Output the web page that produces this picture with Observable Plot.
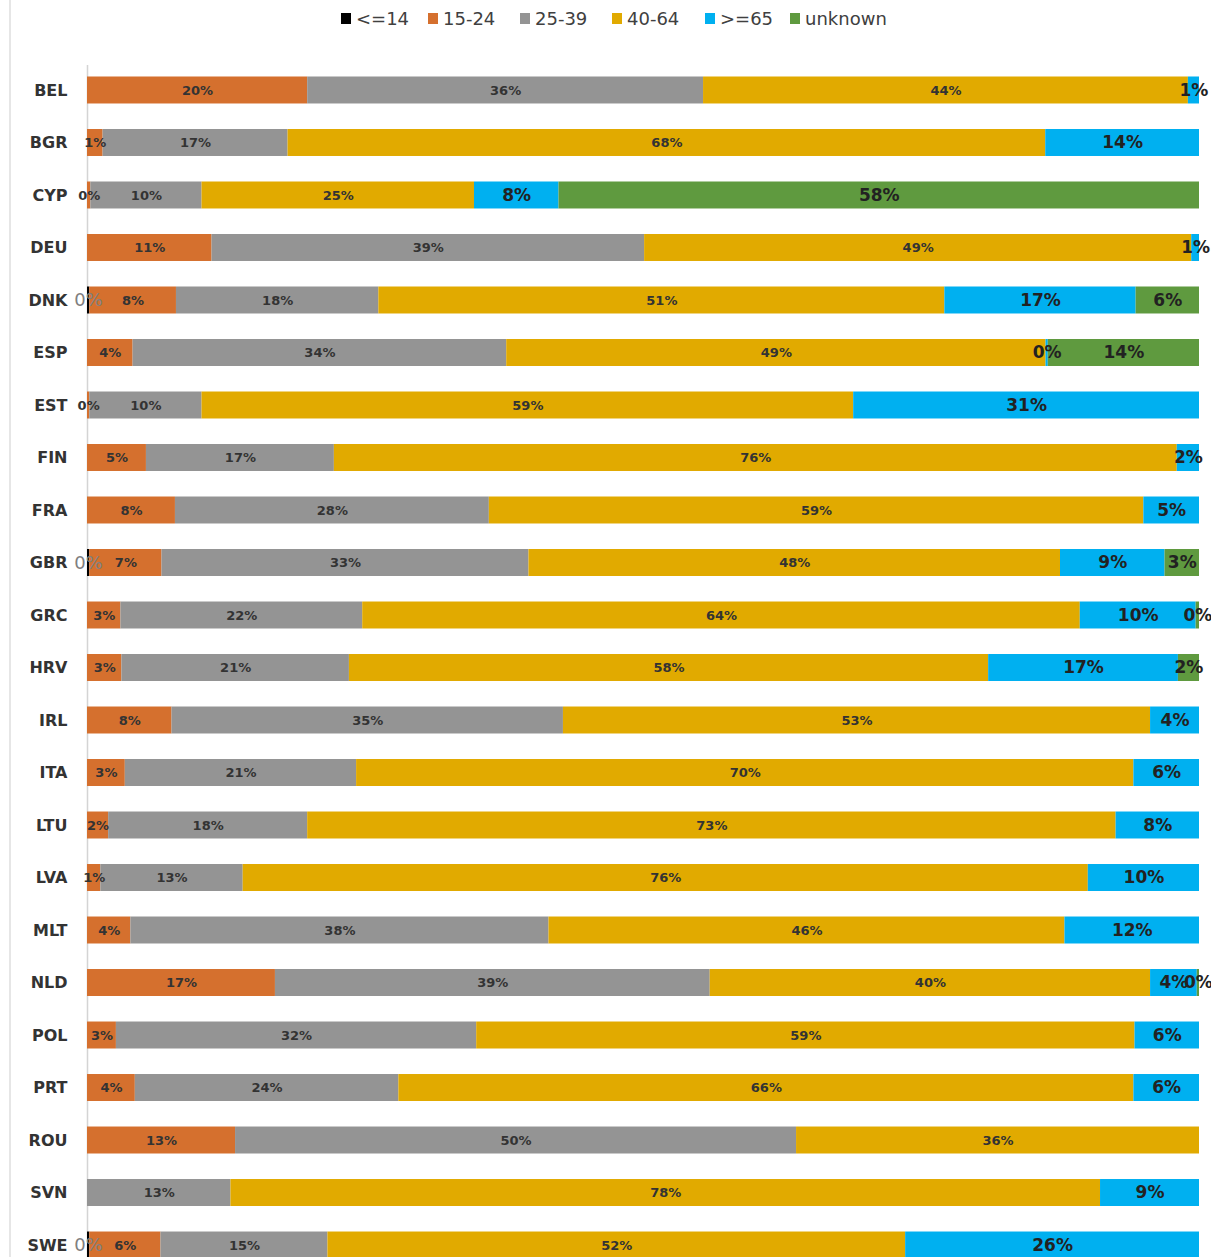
<!DOCTYPE html>
<html>
<head>
<meta charset="utf-8">
<script src="https://cdn.jsdelivr.net/npm/d3@7"></script>
<script src="https://cdn.jsdelivr.net/npm/@observablehq/plot@0.6"></script>
<style>
  html, body { margin:0; padding:0; background:#fff; overflow:hidden; }
  body { width:1211px; height:1257px; position:relative; font-family:"DejaVu Sans", sans-serif; }
  #frame { position:absolute; left:9px; top:0; width:2px; height:1257px; background:#e6e6e6; }
  #legend { height:36px; position:relative; font-size:18px; color:#404040; }
  #legend .item { position:absolute; top:8px; display:flex; align-items:center; white-space:nowrap; }
  #legend .sw { width:10px; height:11px; margin-right:5px; }
  #chart svg g[aria-label="y-axis tick label"] text { font-weight:bold; }
</style>
</head>
<body>
<div id="frame"></div>
<div id="legend"></div>
<div id="chart"></div>
<script>
const countries = ["BEL","BGR","CYP","DEU","DNK","ESP","EST","FIN","FRA","GBR","GRC","HRV","IRL","ITA","LTU","LVA","MLT","NLD","POL","PRT","ROU","SVN","SWE"];
const ages = ["<=14","15-24","25-39","40-64",">=65","unknown"];
const colors = ["#000000","#D5702E","#949494","#E1AA00","#00B0F0","#5F9A3F"];

const age0_14  = [null,null,null,null,0.2,null,null,null,null,0.2,null,null,null,null,null,null,null,null,null,null,null,null,0.2];
const age15_24 = [19.8,1.4,0.3,11.2,7.8,4.1,0.2,5.3,7.9,6.5,3.0,3.1,7.6,3.4,1.9,1.2,3.9,16.9,2.6,4.3,13.3,null,6.4];
const age25_39 = [35.6,16.6,10.0,38.9,18.2,33.6,10.1,16.9,28.2,33.0,21.7,20.5,35.2,20.8,17.9,12.8,37.6,39.1,32.4,23.7,50.4,12.9,15.0];
const age40_64 = [43.6,68.0,24.5,49.2,50.9,48.5,58.6,75.8,58.8,47.8,64.4,57.6,52.8,69.9,72.7,76.0,46.4,39.6,59.2,66.1,36.2,78.2,51.9];
const age65    = [1.0,13.8,7.6,0.7,17.2,0.2,31.1,2.0,5.0,9.4,10.4,17.1,4.4,5.9,7.5,10.0,12.1,4.2,5.8,5.9,null,8.9,26.4];
const ageUnk   = [null,null,57.6,null,5.7,13.6,null,null,null,3.1,0.3,1.9,null,null,null,null,null,0.2,null,null,null,null,null];

const seriesValues = [age0_14, age15_24, age25_39, age40_64, age65, ageUnk];
const rows = [];
countries.forEach((c, i) => {
  ages.forEach((a, j) => {
    const v = seriesValues[j][i];
    if (v != null) rows.push({country: c, age: a, value: v});
  });
});

// legend (positions of the legend entries)
const legendLefts = [341, 428, 520, 612, 705, 790];
const leg = document.getElementById("legend");
ages.forEach((a, j) => {
  const it = document.createElement("div");
  it.className = "item";
  it.style.left = legendLefts[j] + "px";
  const sw = document.createElement("div");
  sw.className = "sw";
  sw.style.background = colors[j];
  const t = document.createElement("span");
  t.textContent = a;
  it.appendChild(sw); it.appendChild(t);
  leg.appendChild(it);
});

const fmt = d => Math.round(d.value) + "%";
const midAges = ["15-24","25-39","40-64"];
const bigAges = [">=65","unknown"];
const stackOpts = {x: "value", y: "country", z: "age", order: ages, offset: "normalize"};

const chart = Plot.plot({
  width: 1211,
  height: 1234,
  marginLeft: 87,
  marginRight: 12,
  marginTop: 29,
  marginBottom: 0,
  x: {domain: [0, 1], axis: null},
  y: {domain: countries, paddingInner: 0.486, paddingOuter: 0.219, round: false, label: null, axis: null},
  color: {domain: ages, range: colors},
  style: {fontFamily: "DejaVu Sans, sans-serif", background: "#fff"},
  marks: [
    Plot.ruleX([0], {stroke: "#d4d4d4", strokeWidth: 1.5}),
    Plot.barX(rows, Plot.stackX({...stackOpts, fill: "age"})),
    Plot.text(rows, Plot.stackX({...stackOpts, text: d => midAges.includes(d.age) ? fmt(d) : null, fontSize: 13, fontWeight: "bold", fill: "#333"})),
    Plot.text(rows, Plot.stackX({...stackOpts, text: d => bigAges.includes(d.age) ? fmt(d) : null, fontSize: 17, fontWeight: "bold", fill: "#222"})),
    Plot.text(rows, Plot.stackX({...stackOpts, text: d => d.age === "<=14" ? fmt(d) : null, fontSize: 18, fill: "#808080"})),
    Plot.axisY({tickSize: 0, tickPadding: 20, fontSize: 16, fill: "#333", label: null})
  ]
});
document.getElementById("chart").appendChild(chart);
</script>
</body>
</html>
